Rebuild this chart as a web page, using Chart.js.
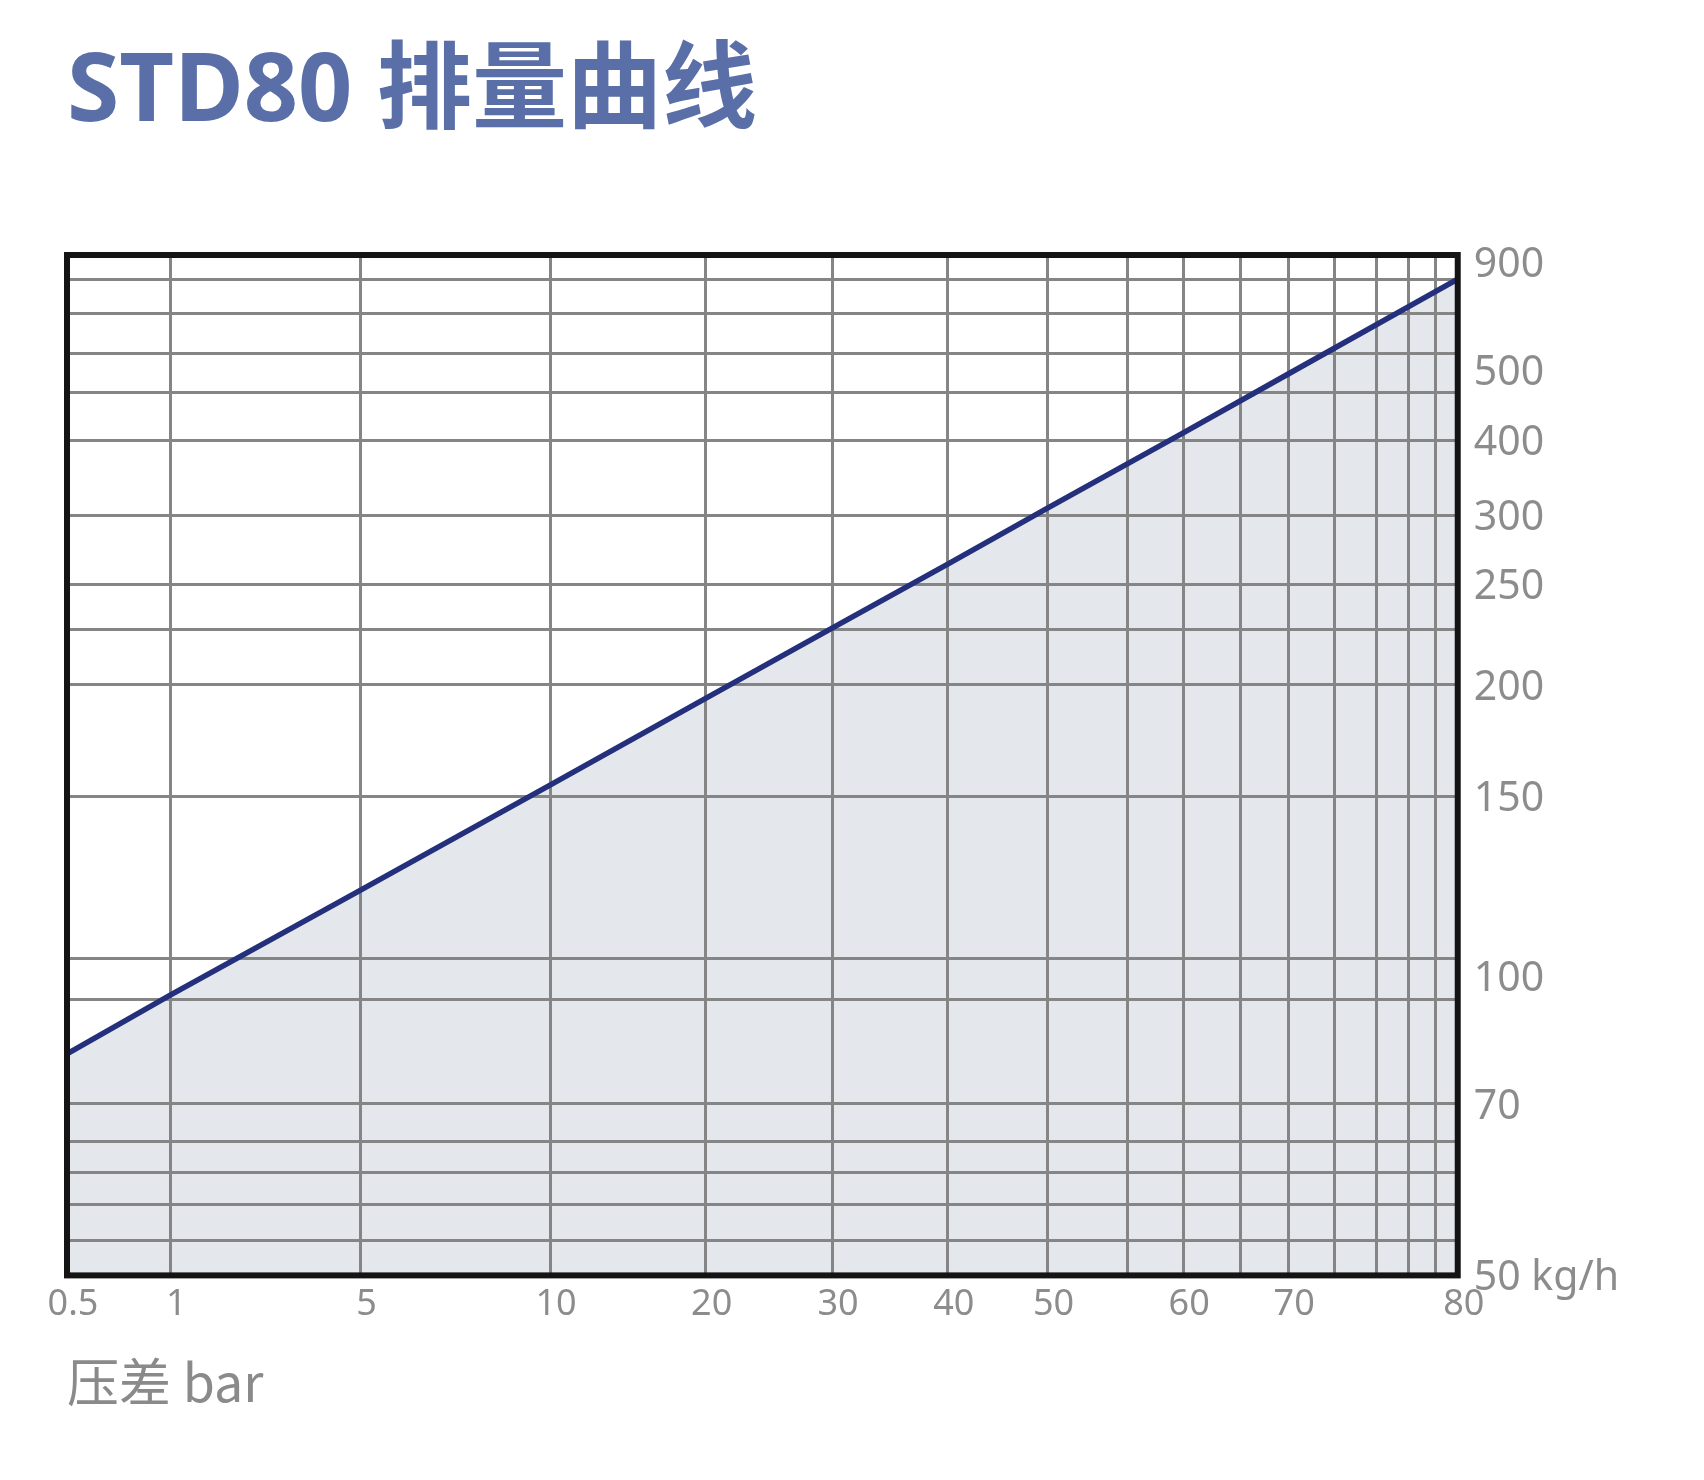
<!DOCTYPE html>
<html>
<head>
<meta charset="utf-8">
<script src="https://cdn.jsdelivr.net/npm/chart.js@4.4.3/dist/chart.umd.min.js"></script>
<style>
  html, body { margin: 0; background: #fff; }
  #wrap { width: 1704px; height: 1480px; }
</style>
</head>
<body>
<div id="wrap"><canvas id="curve"></canvas></div>
<script>
// STD80 displacement curve: pressure difference (bar) vs flow (kg/h)
const pressure = [0.5, 1, 5, 10, 20, 30, 40, 50, 60, 70, 80];
const flow = [82, 96, 124, 155, 194, 226, 265, 310, 411, 495, 800];

// tick labels and the extra unlabeled grid lines
const xLabelValues = [0.5, 1, 5, 10, 20, 30, 40, 50, 60, 70, 80];
const xLabels = ['0.5', '1', '5', '10', '20', '30', '40', '50', '60', '70', '80'];
const xGridValues = [1, 5, 10, 20, 30, 40, 50, 55, 60, 65, 70, 72, 74, 76, 78];

const yLabelValues = [50, 70, 100, 150, 200, 250, 300, 400, 500, 900];
const yLabels = ['50 kg/h', '70', '100', '150', '200', '250', '300', '400', '500', '900'];
const yGridValues = [54, 58, 62, 66, 70, 95, 105, 150, 200, 225, 250, 300, 400, 470, 560, 700, 800];

// the printed axes are neither linear nor log, so each one is a
// table of value -> share of the axis length
const xAxisStops = [
  [0.5, 0], [1, 0.0742], [5, 0.2111], [10, 0.3473], [20, 0.4592], [30, 0.5501],
  [40, 0.6333], [50, 0.7050], [55, 0.7622], [60, 0.8026], [65, 0.8440], [70, 0.8781],
  [72, 0.9114], [74, 0.9416], [76, 0.9647], [78, 0.9838], [80, 1]
];
const yAxisStops = [
  [50, 0], [54, 0.0344], [58, 0.0697], [62, 0.1012], [66, 0.1316], [70, 0.1680],
  [95, 0.2701], [100, 0.2927], [105, 0.3104], [150, 0.4695], [200, 0.5786],
  [225, 0.6326], [250, 0.6768], [300, 0.7446], [400, 0.8183], [470, 0.8654],
  [500, 0.8870], [560, 0.9037], [700, 0.9430], [800, 0.9764], [900, 0.9931], [950, 1]
];

function union(a, b) {
  return Array.from(new Set(a.concat(b))).sort((p, q) => p - q);
}

// linear scale that maps values through a stops table
function piecewiseScale(id, stops, tickValues) {
  const vals = stops.map(s => s[0]);
  const fr = stops.map(s => s[1]);
  return class extends Chart.LinearScale {
    static id = id;
    static defaults = Chart.LinearScale.defaults;
    determineDataLimits() {
      this.min = vals[0];
      this.max = vals[vals.length - 1];
    }
    buildTicks() {
      return tickValues.map(v => ({ value: v }));
    }
    getPixelForValue(v) {
      let i = 1;
      while (i < vals.length - 1 && v > vals[i]) i++;
      const t = (v - vals[i - 1]) / (vals[i] - vals[i - 1]);
      return this.getPixelForDecimal(fr[i - 1] + t * (fr[i] - fr[i - 1]));
    }
    getValueForPixel(p) {
      const d = this.getDecimalForPixel(p);
      let i = 1;
      while (i < fr.length - 1 && d > fr[i]) i++;
      const t = (d - fr[i - 1]) / (fr[i] - fr[i - 1]);
      return vals[i - 1] + t * (vals[i] - vals[i - 1]);
    }
  };
}

Chart.register(
  piecewiseScale('pressureScale', xAxisStops, union(xLabelValues, xGridValues)),
  piecewiseScale('flowScale', yAxisStops, union(yLabelValues, yGridValues))
);

// heavy black box round the plot area
const frame = {
  id: 'frame',
  afterDatasetsDraw(chart) {
    const { ctx, chartArea: a } = chart;
    ctx.save();
    ctx.strokeStyle = '#141414';
    ctx.lineWidth = 6;
    ctx.strokeRect(a.left, a.top, a.right - a.left, a.bottom - a.top);
    ctx.restore();
  }
};

const gridGray = '#858585';
const labelGray = '#8c8c8c';

new Chart(document.getElementById('curve'), {
  type: 'line',
  data: {
    datasets: [{
      label: 'STD80',
      data: pressure.map((p, i) => ({ x: p, y: flow[i] })),
      borderColor: '#24307c',
      borderWidth: 5.5,
      backgroundColor: '#e4e7eb',
      fill: 'start',
      pointRadius: 0,
      tension: 0
    }]
  },
  options: {
    responsive: true,
    maintainAspectRatio: false,
    animation: false,
    layout: { padding: { top: 37, left: 67, right: 69, bottom: 67 } },
    plugins: {
      legend: { display: false },
      tooltip: { enabled: false },
      filler: { drawTime: 'beforeDraw' },
      title: {
        display: true,
        text: 'STD80 排量曲线',
        align: 'start',
        color: '#5a6ea8',
        font: { family: '"Noto Sans", "Noto Sans CJK SC"', size: 95, weight: 'bold' },
        padding: { top: 0, bottom: 104 }
      }
    },
    scales: {
      x: {
        type: 'pressureScale',
        position: 'bottom',
        border: { display: false },
        grid: {
          drawTicks: false,
          lineWidth: 3,
          color: c => xGridValues.includes(c.tick.value) ? gridGray : 'rgba(0,0,0,0)'
        },
        ticks: {
          autoSkip: false,
          maxRotation: 0,
          minRotation: 0,
          padding: 8,
          labelOffset: 6,
          color: labelGray,
          font: { family: '"Noto Sans"', size: 36 },
          callback: v => {
            const i = xLabelValues.indexOf(v);
            return i < 0 ? '' : xLabels[i];
          }
        },
        title: {
          display: true,
          text: '压差 bar',
          align: 'start',
          color: '#8a8a8a',
          font: { family: '"Noto Sans CJK SC", "Noto Sans"', size: 52 },
          padding: { top: 16, bottom: 0 }
        }
      },
      y: {
        type: 'flowScale',
        position: 'right',
        border: { display: false },
        grid: {
          drawTicks: false,
          lineWidth: 3,
          color: c => yGridValues.includes(c.tick.value) ? gridGray : 'rgba(0,0,0,0)'
        },
        ticks: {
          autoSkip: false,
          padding: 16,
          labelOffset: 3,
          color: labelGray,
          font: { family: '"Noto Sans"', size: 41 },
          callback: v => {
            const i = yLabelValues.indexOf(v);
            return i < 0 ? '' : yLabels[i];
          }
        }
      }
    }
  },
  plugins: [frame]
});
</script>
</body>
</html>
